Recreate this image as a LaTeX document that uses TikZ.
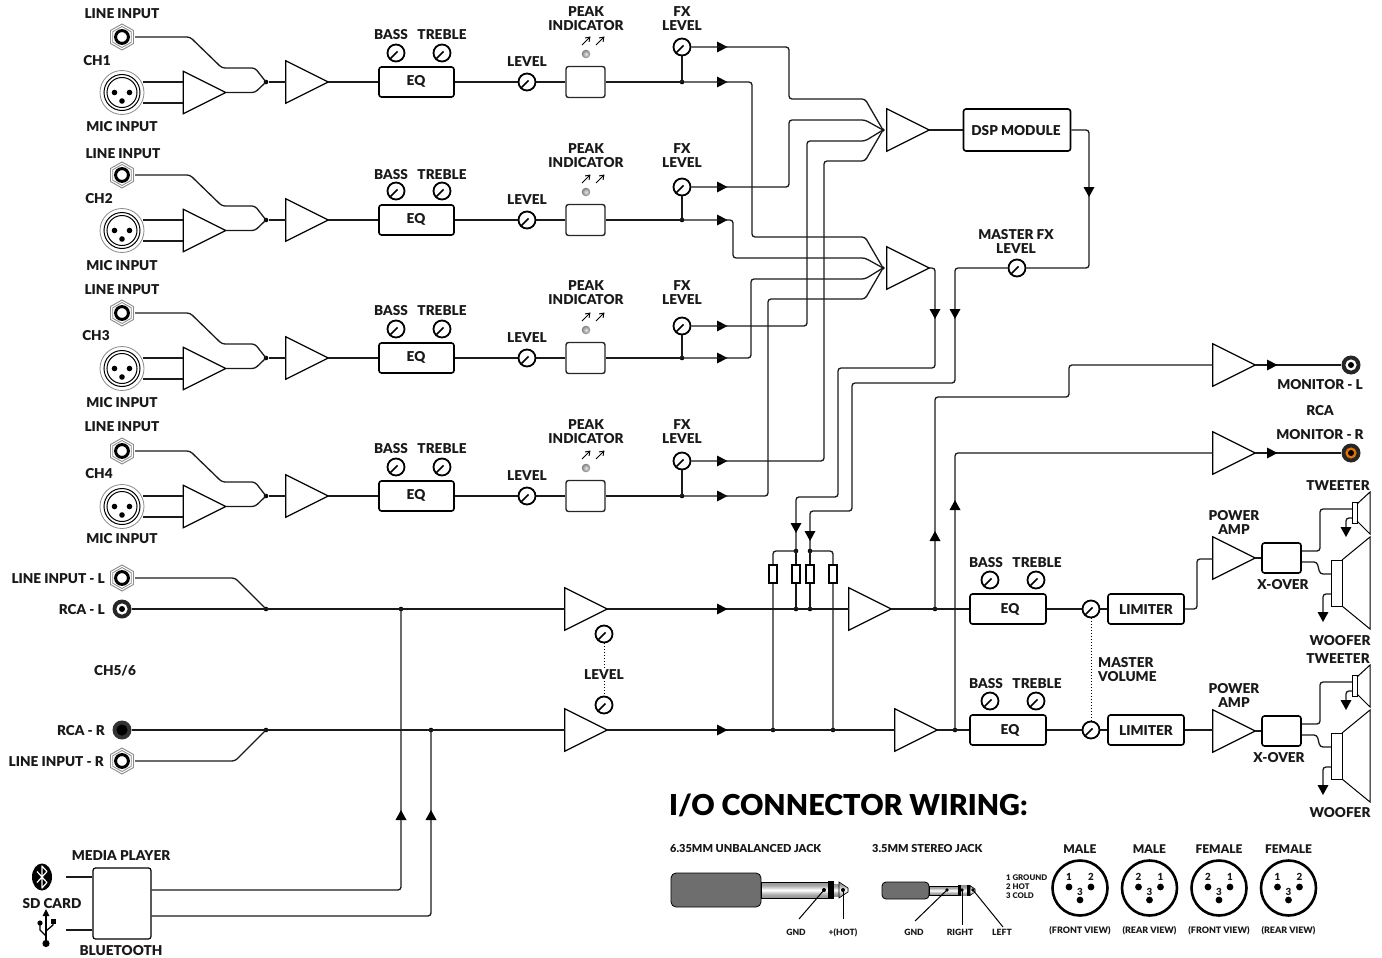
\documentclass[tikz,border=0pt]{standalone}
\usepackage{fontspec}
\setmainfont{Lato}[BoldFont={Lato Black}]
\usetikzlibrary{arrows.meta,shapes.geometric}
\definecolor{wirec}{HTML}{1A1A1A}
\definecolor{hexc}{HTML}{8A8A8A}
\definecolor{gripc}{HTML}{6E6E6E}
\pgfdeclareverticalshading{metal}{100bp}{color(0bp)=(gray!80!black);color(35bp)=(gray!70);color(50bp)=(white);color(65bp)=(gray!70);color(100bp)=(gray!80!black)}
\tikzset{
  lab/.style={font=\bfseries\fontsize{13.6}{14}\selectfont,inner sep=0pt,align=center,text=black!90,yshift=-0.7pt},
  labs/.style={font=\bfseries\fontsize{11}{10}\selectfont,inner sep=0pt,align=center,text=black!90},
  labn/.style={font=\bfseries\fontsize{9.8}{10}\selectfont,inner sep=0pt,align=center,text=black!90},
  labt/.style={font=\bfseries\fontsize{8.6}{9}\selectfont,inner sep=0pt,align=center,text=black!90},
  labh/.style={font=\bfseries\fontsize{12}{12}\selectfont,inner sep=0pt,align=center,text=black!90},
  wire/.style={draw=wirec,line width=1.3pt,rounded corners=3pt},
  boxn/.style={draw=black,line width=1.6pt,rounded corners=2.5pt,fill=white,inner sep=0pt},
  ampn/.style={minimum width=42pt,minimum height=42pt,inner sep=0pt},
  ampl/.style={draw=black,line width=1.2pt,fill=white,line join=miter},
  knobn/.style={circle,draw=black,line width=1.8pt,fill=white,minimum size=17pt,inner sep=0pt},
  jdot/.style={circle,fill=black,minimum size=4.6pt,inner sep=0pt},
  ghost/.style={circle,minimum size=20pt,inner sep=0pt},
}
% triangle amp: invisible node plus its outline
\newcommand{\ampx}[3]{\node[ampn] (#1) at (#2,#3) {};
  \draw[ampl] (#1.north west)--(#1.east)--(#1.south west)--cycle;}
\newcommand{\knobx}[3]{\node[knobn] (#1) at (#2,#3) {};
  \draw[line width=1.6pt,black] (#2-5.5,#3+5.5)--(#2+1.5,#3-1.5);}
\newcommand{\jackx}[3]{\node[ghost,minimum size=26pt] (#1) at (#2,#3) {};
  \draw[hexc,line width=.9pt] (#2,#3-13)--(#2+11.5,#3-6.5)--(#2+11.5,#3+6.5)--(#2,#3+13)--(#2-11.5,#3+6.5)--(#2-11.5,#3-6.5)--cycle;
  \draw[hexc,line width=.8pt] (#2,#3-10.5)--(#2+9.3,#3-5.2)--(#2+9.3,#3+5.2)--(#2,#3+10.5)--(#2-9.3,#3+5.2)--(#2-9.3,#3-5.2)--cycle;
  \draw[black,line width=3pt] (#2,#3) circle (6.4pt);}
\newcommand{\xlrx}[3]{\node[ghost,minimum size=44pt] (#1) at (#2,#3) {};
  \draw[hexc,line width=.8pt] (#2,#3) circle (22pt);
  \draw[black,line width=1pt] (#2,#3) circle (18pt);
  \draw[black,line width=1pt] (#2,#3) circle (15pt);
  \fill[black] (#2-7.5,#3) circle (2.8pt) (#2+7.5,#3) circle (2.8pt) (#2,#3+8.5) circle (2.8pt);}
\newcommand{\rcax}[6]{% name x y outer ring centre
  \node[circle,fill=#4,minimum size=19pt,inner sep=0pt] (#1) at (#2,#3) {};
  \fill[#5] (#2,#3) circle (5.6pt);
  \fill[#6] (#2,#3) circle (3pt);}
\newcommand{\tipR}[2]{\fill[black] (#1-5,#2-5.5)--(#1+5.5,#2)--(#1-5,#2+5.5)--cycle;}
\newcommand{\tipD}[2]{\fill[black] (#1-5.5,#2-10)--(#1+5.5,#2-10)--(#1,#2)--cycle;}
\newcommand{\tipU}[2]{\fill[black] (#1-5.5,#2+5)--(#1+5.5,#2+5)--(#1,#2-5)--cycle;}
\newcommand{\xlrdiag}[5]{% name x num-left num-right
  \node[circle,draw=black,line width=2.6pt,minimum size=55pt,inner sep=0pt] (#1) at (#2,888) {};
  \fill[black] (#2-11,887) circle (3.4pt) (#2+11,887) circle (3.4pt) (#2,900) circle (3.4pt);
  \node[labn] (#1a) at (#2-11,877) {#3};
  \node[labn] (#1b) at (#2+11,877) {#4};
  \node[labn] (#1c) at (#2,892) {3};
  \node[labt,font=\bfseries\fontsize{8.9}{9}\selectfont] (#1v) at (#2,931) {#5};}
\newcommand{\spk}[1]{% speakers group, y offset
  \draw[black,line width=1pt,fill=white] (1352,502+#1) rectangle (1357,523+#1);
  \draw[black,line width=1pt] (1357,504+#1)--(1370,492+#1)--(1370,534+#1)--(1357,521+#1);
  \draw[black,line width=1pt,fill=white] (1331,560+#1) rectangle (1342,606+#1);
  \draw[black,line width=1pt] (1342,560+#1)--(1370,537+#1)--(1370,629+#1)--(1342,606+#1);}
\begin{document}
\begin{tikzpicture}[x=1pt,y=-1pt]
\useasboundingbox (0,0) rectangle (1382,958);
% ---------- input channels ----------
\foreach \n/\my/\fy/\ley/\pky/\by/\ky/\liy/\chx/\chy/\miy/\ledy/\lix/\cht in {
 1/82/47/61/11/34/53/13/97/60/126/54/122/CH1,
 2/220/187/201/148/174/191/153/99/198/265/192/123/CH2,
 3/358/326/338/285/310/329/289/96/335/402/330/122/CH3,
 4/496/461/476/424/448/467/426/99/473/538/468/122/CH4}{
 \jackx{lj\n}{122}{\my-45}
 \xlrx{xl\n}{122}{\my+10.5}
 \ampx{pre\n}{204.5}{\my+10.5}
 \ampx{gain\n}{307}{\my}
 \node[jdot] (mix\n) at (266,\my) {};
 \node[boxn,minimum width=75pt,minimum height=30pt] (eq\n) at (416.5,\my) {};
 \node[lab] (eqt\n) at (416,\my-1) {EQ};
 \knobx{ba\n}{396}{\ky}
 \knobx{tr\n}{442}{\ky}
 \knobx{lv\n}{527}{\my}
 \node[boxn,line width=1.4pt,draw=black!85,minimum width=39pt,minimum height=31pt] (pk\n) at (585.5,\my) {};
 \shade[inner color=white!80!gray,outer color=gray] (586,\ledy) circle (4.3pt);
 \draw[line width=.9pt,-{Straight Barb[length=4pt,width=5.5pt]}] (582,\ledy-9)--(590.5,\ledy-17.5);
 \draw[line width=.9pt,-{Straight Barb[length=4pt,width=5.5pt]}] (596,\ledy-9)--(604.5,\ledy-17.5);
 \knobx{fx\n}{682}{\fy}
 \node[jdot] (tap\n) at (682,\my) {};
 \draw[wire] (lj\n.east)--(190,\my-45)--(222,\my-14)--(255,\my-14)--(mix\n.center);
 \draw[wire] (pre\n.east)--(255,\my+10.5)--(mix\n.center);
 \draw[wire] (143,\my) -- (pre\n.west |- 0,\my);
 \draw[wire] (143,\my+21) -- (pre\n.west |- 0,\my+21);
 \draw[wire] (mix\n)--(gain\n.west);
 \draw[wire] (gain\n.east)--(eq\n.west);
 \draw[wire] (eq\n.east)--(lv\n.west);
 \draw[wire] (lv\n.east)--(pk\n.west);
 \draw[wire] (pk\n.east)--(tap\n.center);
 \draw[wire] (fx\n.south)--(tap\n.center);
 \tipR{722}{\my}
 \tipR{722}{\fy}
 \node[lab] (tl\n) at (\lix,\liy) {LINE INPUT};
 \node[lab] (tc\n) at (\chx,\chy) {\cht};
 \node[lab] (tm\n) at (122,\miy) {MIC INPUT};
 \node[lab] (tb\n) at (391,\by) {BASS};
 \node[lab] (tt\n) at (442,\by) {TREBLE};
 \node[lab] (tv\n) at (527,\my-21) {LEVEL};
 \node[lab] (tp\n) at (586,\pky+7) {PEAK\\INDICATOR};
 \node[lab] (tf\n) at (682,\pky+7) {FX\\LEVEL};
}
% ---------- summing amps ----------
\ampx{sumA}{908}{130}
\ampx{sumB}{908}{268}
\node[jdot,minimum size=3.5pt] (ja) at (883,130) {};
\node[jdot,minimum size=3.5pt] (jb) at (883,268) {};
\draw[wire] (fx1.east)--(789,47)--(789,99)--(865,99)--(ja.center);
\draw[wire] (fx2.east)--(789,187)--(789,120)--(865,120)--(ja.center);
\draw[wire] (fx3.east)--(807,326)--(807,141)--(865,141)--(ja.center);
\draw[wire] (fx4.east)--(824,461)--(824,161)--(865,161)--(ja.center);
\draw[wire] (tap1.center)--(752,82)--(752,237)--(865,237)--(jb.center);
\draw[wire] (tap2.center)--(733,220)--(733,258)--(865,258)--(jb.center);
\draw[wire] (tap3.center)--(751,358)--(751,279)--(865,279)--(jb.center);
\draw[wire] (tap4.center)--(768,496)--(768,299)--(865,299)--(jb.center);
\node[boxn,minimum width=107pt,minimum height=42pt] (dsp) at (1017,130) {};
\node[lab] (dspt) at (1016,130) {DSP MODULE};
\draw[wire] (sumA.east)--(dsp.west);
\knobx{mfx}{1017}{268}
\node[lab] (mfxt) at (1016,241) {MASTER FX\\LEVEL};
\draw[wire] (dsp.east)--(1089,130)--(1089,268)--(mfx.east);
\tipD{1089}{197}
% ---------- CH5/6 inputs ----------
\jackx{ljL}{122}{578}
\rcax{rcaL}{122}{609}{black!85}{white}{black}
\rcax{rcaR}{122}{730}{black!80}{black}{black}
\jackx{ljR}{122}{761}
\node[lab,anchor=east] (tlL) at (105,578) {LINE INPUT - L};
\node[lab,anchor=east] (trL) at (105,609) {RCA - L};
\node[lab,anchor=east] (trR) at (105,730) {RCA - R};
\node[lab,anchor=east] (tlR) at (104,761) {LINE INPUT - R};
\node[lab] (t56) at (115,670) {CH5/6};
\node[jdot] (mL) at (266,609) {};
\node[jdot] (mR) at (266,730) {};
\node[jdot] (bL) at (401,609) {};
\node[jdot] (bR) at (431,730) {};
\ampx{stL}{586}{609}
\ampx{stR}{586}{730}
\draw[wire] (ljL.east)--(235,578)--(mL.center);
\draw[wire] (ljR.east)--(235,761)--(mR.center);
\draw[wire] (rcaL.east)--(stL.west);
\draw[wire] (rcaR.east)--(stR.west);
\knobx{lvL}{604}{634}
\knobx{lvR}{604}{705}
\node[lab,fill=white,inner sep=1pt] (lvt) at (604,674) {LEVEL};
\draw[black,line width=1pt,dotted] (lvL.south)--(lvt.north);
\draw[black,line width=1pt,dotted] (lvt.south)--(lvR.north);
% media player
\node[boxn,line width=1.2pt,minimum width=58pt,minimum height=71pt] (mp) at (122,903.5) {};
\node[lab] (tmp) at (121,855) {MEDIA PLAYER};
\node[lab] (tsd) at (52,903) {SD CARD};
\node[lab] (tbt) at (121,950) {BLUETOOTH};
\draw[wire] (mp.east |- 0,890)--(401,890)--(bL.center);
\draw[wire] (mp.east |- 0,916)--(431,916)--(bR.center);
\tipU{401}{815}
\tipU{431}{815}
\node[ellipse,fill=black,minimum width=20pt,minimum height=27pt,inner sep=0pt] (bticon) at (42,877) {};
\draw[white,line width=1.2pt,line join=round] (37,871.5)--(47,882.5)--(42,888)--(42,866)--(47,871.5)--(37,882.5);
\coordinate (btend) at (66,877);
\coordinate (usbend) at (66,930);
\draw[wire] (btend)--(mp.west |- btend);
\draw[wire] (usbend)--(mp.west |- usbend);
% USB symbol
\draw[black,line width=1.3pt] (46,914)--(46,943);
\fill[black] (46,909)--(49.5,916)--(42.5,916)--cycle;
\fill[black] (46,943.5) circle (3.6pt);
\draw[black,line width=1.3pt,line join=round] (46,936)--(40,930)--(40,924);
\fill[black] (40,923) circle (2.6pt);
\draw[black,line width=1.3pt,line join=round] (46,931)--(53,925)--(53,922);
\fill[black] (50.5,919) rectangle (55.5,924);
% ---------- output section ----------
\ampx{bufL}{870}{609}
\ampx{bufR}{916}{730}
\node[jdot] (j796) at (796,551) {};
\node[jdot] (j810) at (810,551) {};
\node[jdot] (i796) at (796,609) {};
\node[jdot] (i810) at (810,609) {};
\node[jdot] (i773) at (773,730) {};
\node[jdot] (i833) at (833,730) {};
\node[jdot] (tapL) at (935,609) {};
\node[jdot] (tapR) at (955,730) {};
\draw[wire] (stL.east)--(bufL.west);
\draw[wire] (stR.east)--(bufR.west);
\draw[wire] (i773.center)--(773,551)--(j796.center);
\draw[wire] (i833.center)--(833,551)--(j810.center);
\draw[wire] (j796.center)--(i796.center);
\draw[wire] (j810.center)--(i810.center);
\foreach \rx/\rn in {773/a,796/b,810/c,833/d}{
 \node[draw=black,line width=1.1pt,fill=white,minimum width=8pt,minimum height=18pt,inner sep=0pt] (res\rn) at (\rx,574) {};
}
\tipR{722}{609}
\tipR{722}{730}
\draw[wire] (sumB.east)--(935,268)--(935,368)--(838,368)--(838,497)--(796,497)--(j796.center);
\draw[wire] (mfx.west)--(955,268)--(955,383)--(852,383)--(852,511)--(810,511)--(j810.center);
\tipD{935}{319}
\tipD{955}{319}
\tipD{796}{533}
\tipD{810}{541}
\ampx{monL}{1234}{365}
\ampx{monR}{1234}{453}
\rcax{rcaML}{1351}{365}{black!85}{white}{black}
\rcax{rcaMR}{1351}{453}{black!85}{orange!90!black}{black}
\draw[wire] (tapL.center)--(935,397)--(1069,397)--(1069,365)--(monL.west);
\draw[wire] (tapR.center)--(955,453)--(monR.west);
\draw[wire] (monL.east)--(rcaML.west);
\draw[wire] (monR.east)--(rcaMR.west);
\tipR{1272}{365}
\tipR{1272}{453}
\tipU{935}{536}
\tipU{955}{505}
\node[lab] (tML) at (1320,384) {MONITOR - L};
\node[lab] (tRC) at (1320,410) {RCA};
\node[lab] (tMR) at (1320,434) {MONITOR - R};
% L and R output chains
\foreach \s/\ey/\ay/\xy/\bt/\kt/\pt/\xt/\xx/\twt/\wot/\dy in {
 L/609/558/558/562/580/522/584/1283/485/640/0,
 R/730/731/731/683/701/695/757/1279/658/812/173}{
 \node[boxn,minimum width=76pt,minimum height=30pt] (oe\s) at (1008,\ey) {};
 \node[lab] (oet\s) at (1010,\ey) {EQ};
 \knobx{ob\s}{990}{\kt}
 \knobx{ot\s}{1036}{\kt}
 \node[lab] (obt\s) at (986,\bt) {BASS};
 \node[lab] (ott\s) at (1037,\bt) {TREBLE};
 \knobx{mv\s}{1091}{\ey}
 \node[boxn,minimum width=76pt,minimum height=30pt] (li\s) at (1146,\ey) {};
 \node[lab] (lit\s) at (1146,\ey) {LIMITER};
 \ampx{pa\s}{1234}{\ay}
 \node[boxn,minimum width=39pt,minimum height=30pt] (xo\s) at (1281.5,\xy) {};
 \node[lab] (ttw\s) at (1338,\twt) {TWEETER};
 \node[lab] (two\s) at (1340,\wot) {WOOFER};
 \node[lab] (txo\s) at (\xx,\xt) {X-OVER};
 \node[lab] (tpa\s) at (1234,\pt) {POWER\\AMP};
 \draw[wire] (oe\s.east)--(mv\s.west);
 \draw[wire] (mv\s.east)--(li\s.west);
 \draw[wire] (pa\s.east)--(xo\s.west);
 \spk{\dy}
 \draw[wire] (xo\s.east |- 0,551+\dy)--(1320,551+\dy)--(1320,509+\dy)--(1352,509+\dy);
 \draw[wire] (xo\s.east |- 0,562+\dy)--(1317,562+\dy)--(1320,574+\dy)--(1331,574+\dy);
 \draw[wire] (1352,518+\dy)--(1346,518+\dy)--(1346,532+\dy);
 \draw[wire] (1331,594+\dy)--(1323,594+\dy)--(1323,615+\dy);
 \tipD{1346}{537+\dy}
 \tipD{1323}{622+\dy}
}
\draw[wire] (bufL.east)--(oeL.west);
\draw[wire] (bufR.east)--(oeR.west);
\draw[wire] (liL.east)--(1197,609)--(1197,559)--(paL.west |- 0,559);
\draw[wire] (liR.east)--(paR.west |- 0,730);
\draw[black,line width=1pt,dotted] (mvL.south)--(mvR.north);
\node[lab,align=left,anchor=west] (tmv) at (1098,669) {MASTER\\VOLUME};
% ---------- wiring legend ----------
\node[font=\bfseries\fontsize{28.8}{28}\selectfont,inner sep=0pt,anchor=west] (title) at (669,805.5) {I/O CONNECTOR WIRING:};
\node[labs,anchor=west] (t635) at (670,848.5) {6.35MM UNBALANCED JACK};
\node[labs,anchor=west] (t35) at (872,848.5) {3.5MM STEREO JACK};
% big jack
\node[draw=black,line width=.8pt,fill=gripc,rounded corners=5pt,minimum width=90pt,minimum height=34pt,inner sep=0pt] (bigj) at (716,890) {};
\shade[shading=metal] (761,882) rectangle (828,898);
\draw[black,line width=.8pt] (761,882) rectangle (828,898);
\fill[black] (828,881) rectangle (834,899);
\shade[shading=metal] (834,884) rectangle (840,896);
\filldraw[draw=black,line width=.6pt,shading=metal] (839,882)--(848,888)--(848,892)--(839,898)--cycle;
\coordinate (gnd1) at (824,890);
\coordinate (hot1) at (843,890);
\fill[black] (gnd1) circle (2pt) (hot1) circle (2pt);
\draw[black,line width=1pt] (gnd1)--(799,919);
\draw[black,line width=1pt] (hot1)--(843,919);
\node[labt] (tg1) at (796,932.5) {GND};
\node[labt] (th1) at (843,932.5) {+(HOT)};
% small jack
\node[draw=black,line width=.8pt,fill=gripc,rounded corners=4pt,minimum width=47pt,minimum height=17pt,inner sep=0pt] (smj) at (905.5,890.5) {};
\shade[shading=metal] (929,886) rectangle (958,895);
\draw[black,line width=.6pt] (929,886) rectangle (958,895);
\fill[black] (958,885) rectangle (961,896);
\shade[shading=metal] (961,885.5) rectangle (967,895.5);
\fill[black] (967,885) rectangle (970,896);
\filldraw[draw=black,line width=.5pt,shading=metal] (970,885.5)--(975,889)--(975,892)--(970,895.5)--cycle;
\coordinate (gnd2) at (947,890);
\coordinate (rgt2) at (962,890);
\coordinate (lft2) at (973,890);
\fill[black] (gnd2) circle (1.8pt) (rgt2) circle (1.8pt) (lft2) circle (1.8pt);
\draw[black,line width=1pt] (gnd2)--(915,921);
\draw[black,line width=1pt] (rgt2)--(962,925);
\draw[black,line width=1pt] (lft2)--(1003,927);
\node[labt] (tg2) at (914,932.5) {GND};
\node[labt] (tr2) at (960,932.5) {RIGHT};
\node[labt] (tl2) at (1002,932.5) {LEFT};
\node[labt,font=\bfseries\fontsize{7.8}{9}\selectfont,align=left,anchor=west] (tleg) at (1006,887) {1 GROUND\\2 HOT\\3 COLD};
\xlrdiag{xa}{1080}{1}{2}{(FRONT VIEW)}
\xlrdiag{xb}{1149.5}{2}{1}{(REAR VIEW)}
\xlrdiag{xc}{1219}{2}{1}{(FRONT VIEW)}
\xlrdiag{xd}{1288.5}{1}{2}{(REAR VIEW)}
\node[labh] (hm1) at (1080,849.5) {MALE};
\node[labh] (hm2) at (1149.5,849.5) {MALE};
\node[labh] (hf1) at (1219,849.5) {FEMALE};
\node[labh] (hf2) at (1288.5,849.5) {FEMALE};
\end{tikzpicture}
\end{document}
